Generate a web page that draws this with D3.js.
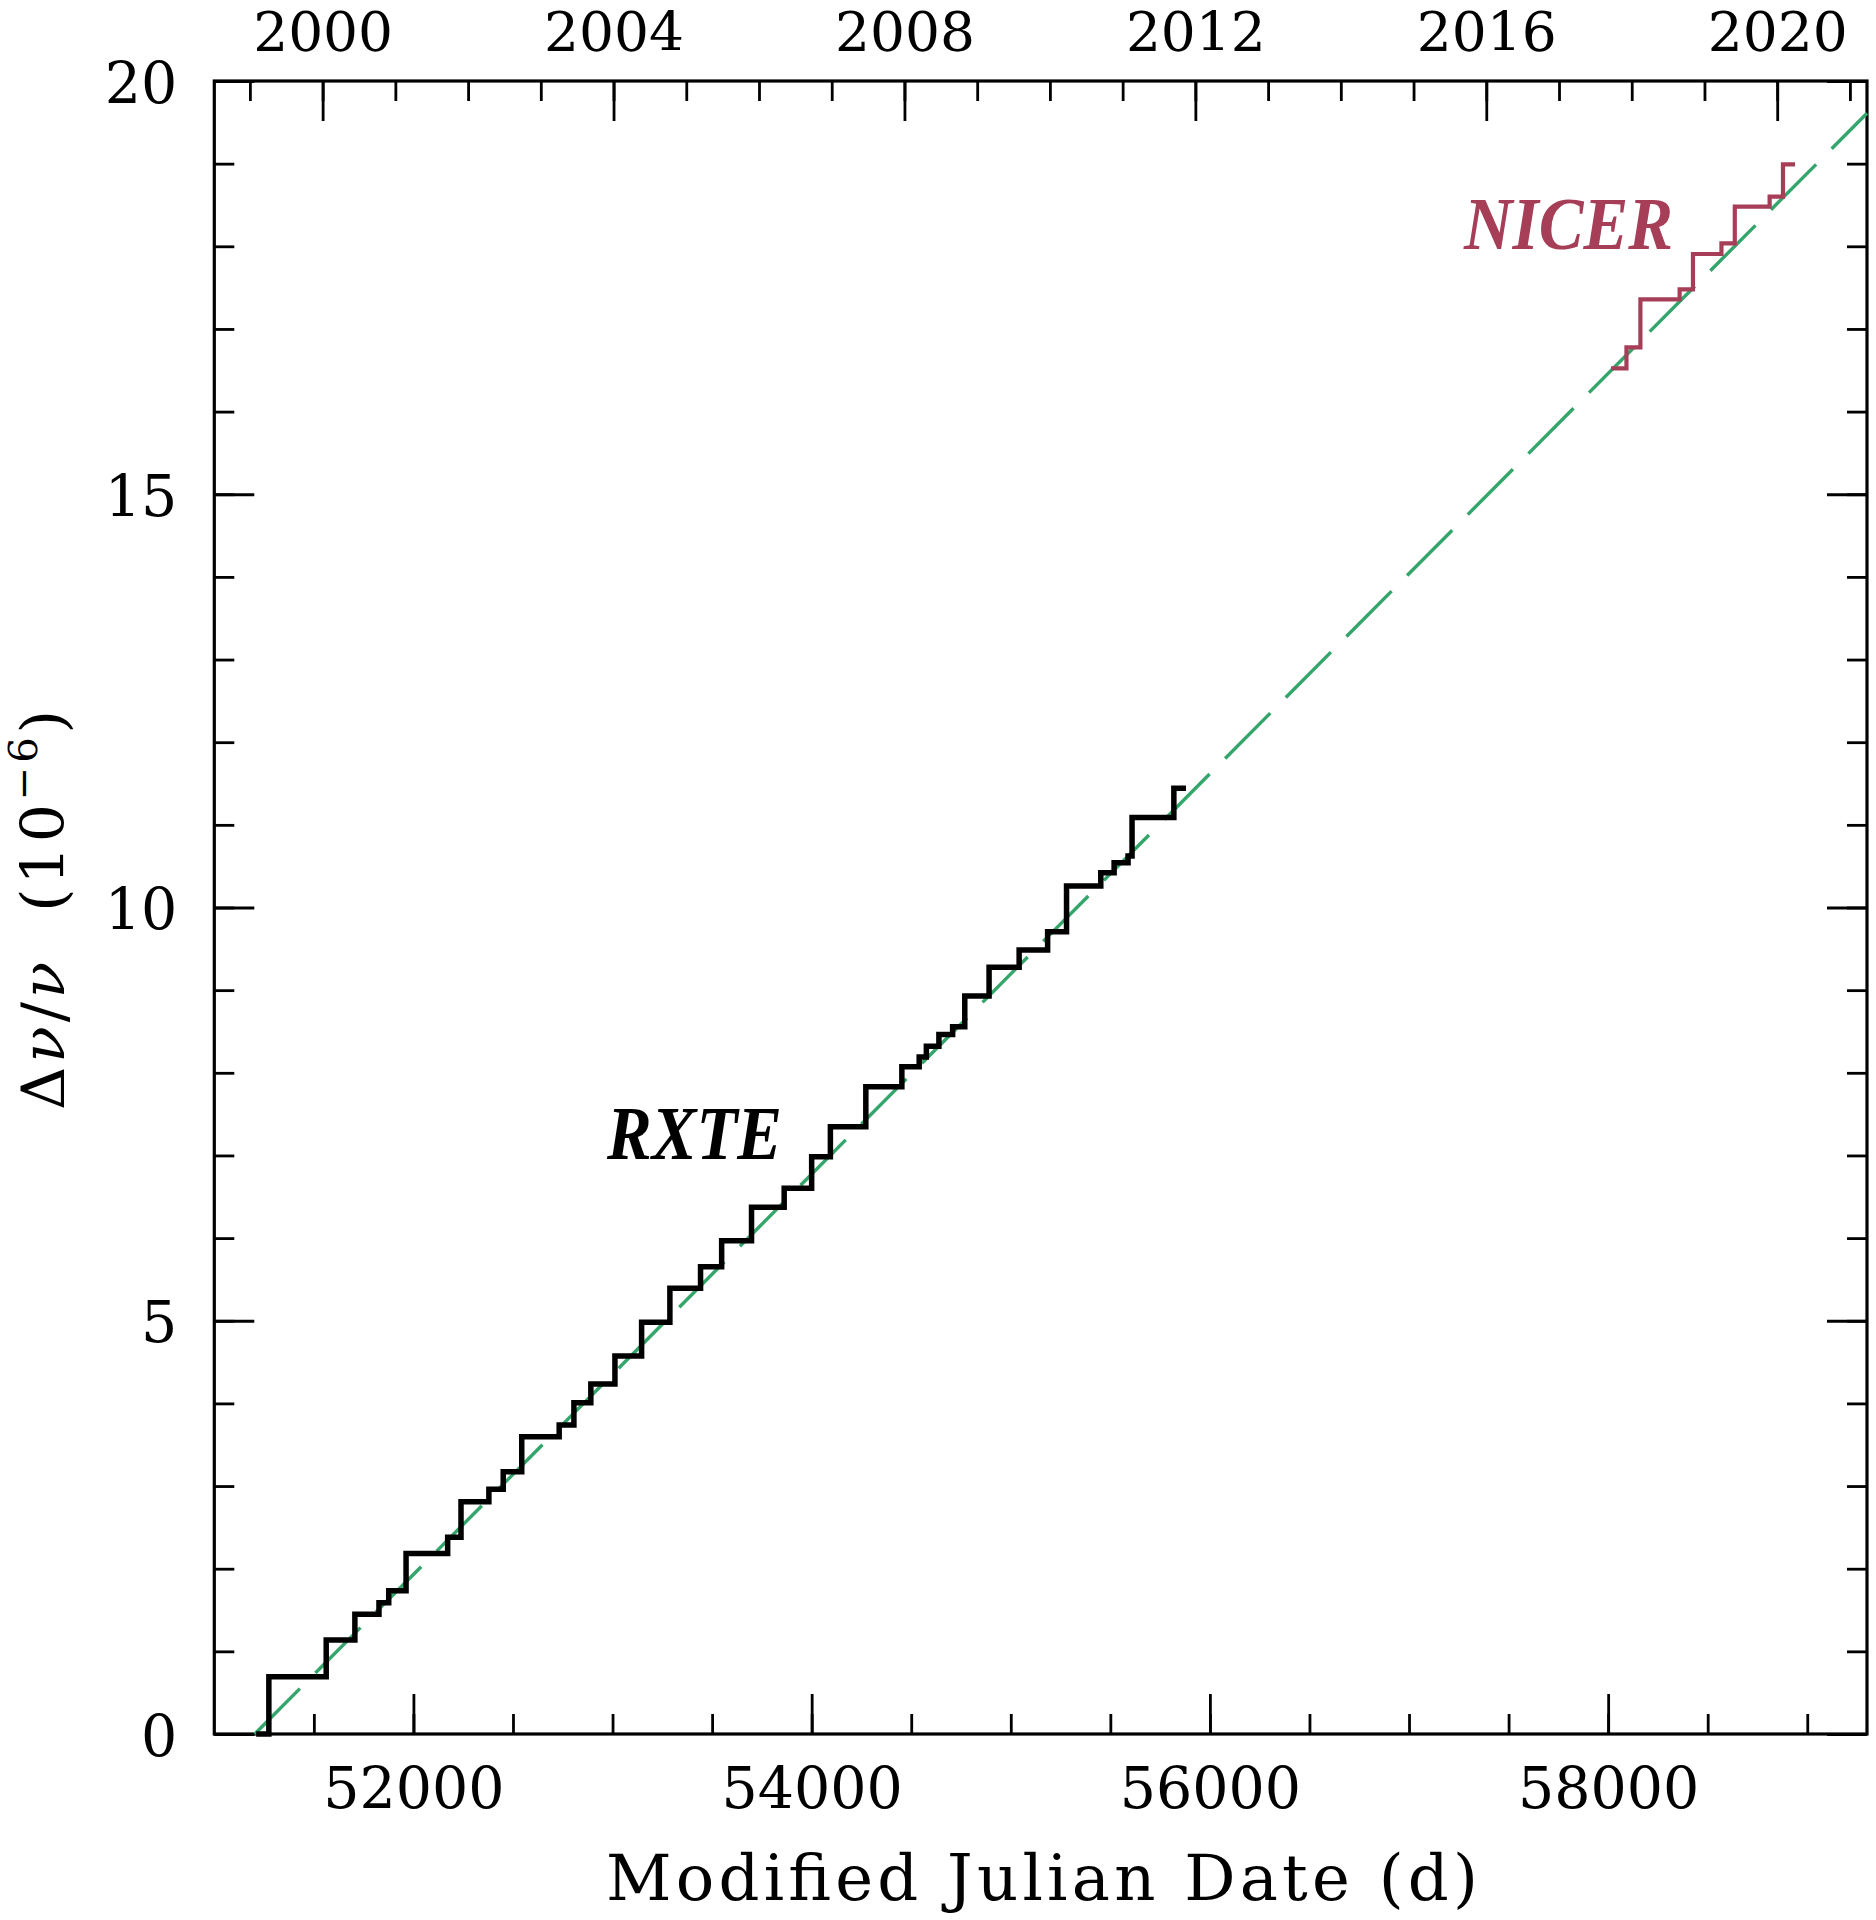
<!DOCTYPE html>
<html>
<head>
<meta charset="utf-8">
<script src="https://cdn.jsdelivr.net/npm/d3@7"></script>
<style>
  html, body { margin: 0; padding: 0; background: #fff; }
  svg { display: block; }
</style>
</head>
<body>
<div id="chart"></div>
<script>
// ---------------- data ----------------
// RXTE cumulative glitch fractional frequency jumps (start, glitch epochs, end)
const rxteMJD = [51224, 51274, 51562, 51706, 51827, 51876, 51963, 52172, 52239, 52379, 52451,
  52544, 52732, 52806, 52891, 53012, 53146, 53288, 53442, 53548, 53698, 53862, 54000, 54094,
  54272, 54453, 54540, 54576, 54639, 54708, 54769, 54891, 55042, 55185, 55280, 55452, 55519,
  55589, 55609, 55819, 55866];
const rxteVal = [0, 0.693, 1.137, 1.448, 1.589, 1.734, 2.184, 2.380, 2.811, 2.961, 3.174,
  3.597, 3.739, 4.008, 4.235, 4.574, 4.982, 5.393, 5.654, 5.969, 6.373, 6.603, 6.985, 7.348,
  7.832, 8.074, 8.191, 8.321, 8.463, 8.558, 8.929, 9.276, 9.486, 9.707, 10.260, 10.421, 10.542,
  10.623, 11.089, 11.442, 11.442];

// NICER
const nicerMJD = [58025, 58092, 58162, 58359, 58426, 58569, 58636, 58811, 58878, 58928];
const nicerVal = [16.524, 16.778, 17.359, 17.480, 17.907, 18.036, 18.479, 18.600, 18.992, 18.992];

// linear fit (dashed)
const fitMJD = [51203, 59300];
const fitVal = [0, 19.61];

// axes
const xDomain = [51000, 59300];
const yDomain = [0, 20];
const xMajorTicks = [52000, 54000, 56000, 58000];
const xMinorTicks = d3.range(51500, 59300, 500);
const yMajorTicks = [0, 5, 10, 15, 20];
const yMinorTicks = d3.range(0, 21, 1);
const yearMajorTicks = [2000, 2004, 2008, 2012, 2016, 2020];
const yearMinorTicks = d3.range(1999, 2022, 1);

const xTitle = "Modified Julian Date (d)";
const labelRXTE = "RXTE";
const labelNICER = "NICER";

// ---------------- layout ----------------
const W = 1876, H = 1920;
const L = 214.3, R = 1867, T = 81, B = 1734;
const FONT = "'DejaVu Serif', serif";
const GREEN = "#34a56b";
const RED = "#a63e58";

const svg = d3.select("#chart").append("svg")
  .attr("width", W).attr("height", H)
  .attr("viewBox", `0 0 ${W} ${H}`);

const x = d3.scaleLinear().domain(xDomain).range([L, R]);
const y = d3.scaleLinear().domain(yDomain).range([B, T]);
const yearOf = m => 2000 + (m - 51544) / 365.25;
const xYear = d3.scaleLinear().domain(xDomain.map(yearOf)).range([L, R]);

function styleAxis(g, fs) {
  g.select(".domain").remove();
  g.selectAll(".tick line").attr("stroke", "#000").attr("stroke-width", 2.8);
  g.selectAll("text").attr("font-family", FONT).attr("font-size", fs).attr("fill", "#000");
}

// bottom minor
svg.append("g").attr("transform", `translate(0,${B})`)
  .call(d3.axisBottom(x).tickValues(xMinorTicks).tickSize(-20).tickFormat(""))
  .call(g => styleAxis(g, 57));
// bottom major
svg.append("g").attr("transform", `translate(0,${B})`)
  .call(d3.axisBottom(x).tickValues(xMajorTicks).tickSize(-40).tickFormat(d3.format("d")))
  .call(g => styleAxis(g, 57))
  .call(g => g.selectAll("text").attr("y", 74).attr("dy", null));

// top minor (years)
svg.append("g").attr("transform", `translate(0,${T})`)
  .call(d3.axisTop(xYear).tickValues(yearMinorTicks).tickSize(-20).tickFormat(""))
  .call(g => styleAxis(g, 56));
svg.append("g").attr("transform", `translate(0,${T})`)
  .call(d3.axisTop(xYear).tickValues(yearMajorTicks).tickSize(-40).tickFormat(d3.format("d")))
  .call(g => styleAxis(g, 55))
  .call(g => g.selectAll("text").attr("y", -30).attr("dy", null));

// left
svg.append("g").attr("transform", `translate(${L},0)`)
  .call(d3.axisLeft(y).tickValues(yMinorTicks).tickSize(-20).tickFormat(""))
  .call(g => styleAxis(g, 57));
svg.append("g").attr("transform", `translate(${L},0)`)
  .call(d3.axisLeft(y).tickValues(yMajorTicks).tickSize(-40).tickPadding(37).tickFormat(d3.format("d")))
  .call(g => styleAxis(g, 57))
  .call(g => g.selectAll("text").attr("dy", 21));
// right
svg.append("g").attr("transform", `translate(${R},0)`)
  .call(d3.axisRight(y).tickValues(yMinorTicks).tickSize(-20).tickFormat(""))
  .call(g => styleAxis(g, 57));
svg.append("g").attr("transform", `translate(${R},0)`)
  .call(d3.axisRight(y).tickValues(yMajorTicks).tickSize(-40).tickFormat(""))
  .call(g => styleAxis(g, 57));

// frame
svg.append("rect")
  .attr("x", L).attr("y", T).attr("width", R - L).attr("height", B - T)
  .attr("fill", "none").attr("stroke", "#000").attr("stroke-width", 3.2);

// fit line
const fitPts = fitMJD.map((m, i) => [m, fitVal[i]]);
svg.append("path")
  .attr("d", d3.line().x(d => x(d[0])).y(d => y(d[1]))(fitPts))
  .attr("fill", "none").attr("stroke", GREEN).attr("stroke-width", 3.4)
  .attr("stroke-dasharray", "64,22");

// step lines
const step = d3.line().x(d => x(d[0])).y(d => y(d[1])).curve(d3.curveStepAfter);
svg.append("path")
  .attr("d", step(rxteMJD.map((m, i) => [m, rxteVal[i]])))
  .attr("fill", "none").attr("stroke", "#000").attr("stroke-width", 5.5)
  .attr("stroke-linejoin", "miter").attr("stroke-linecap", "square");
svg.append("path")
  .attr("d", step(nicerMJD.map((m, i) => [m, nicerVal[i]])))
  .attr("fill", "none").attr("stroke", RED).attr("stroke-width", 4.2)
  .attr("stroke-linejoin", "miter").attr("stroke-linecap", "square");

// labels
svg.append("text").text(labelRXTE)
  .attr("x", 607).attr("y", 1159)
  .attr("font-family", "'Liberation Serif', serif").attr("font-style", "italic").attr("font-weight", "bold")
  .attr("font-size", 76).attr("textLength", 175).attr("lengthAdjust", "spacingAndGlyphs")
  .attr("fill", "#000");
svg.append("text").text(labelNICER)
  .attr("x", 1464).attr("y", 249)
  .attr("font-family", "'Liberation Serif', serif").attr("font-style", "italic").attr("font-weight", "bold")
  .attr("font-size", 74).attr("textLength", 209).attr("lengthAdjust", "spacingAndGlyphs")
  .attr("fill", RED);

// x title
svg.append("text").text(xTitle)
  .attr("x", 606).attr("y", 1900)
  .attr("font-family", FONT).attr("font-size", 64)
  .attr("textLength", 872).attr("lengthAdjust", "spacing")
  .attr("fill", "#000");

// y title
const yt = svg.append("text")
  .attr("transform", "translate(64,1110) rotate(-90)")
  .attr("x", 0).attr("y", 0)
  .attr("font-family", FONT).attr("font-size", 60).attr("fill", "#000")
  .attr("textLength", 400).attr("lengthAdjust", "spacing");
yt.append("tspan").text("Δ");
yt.append("tspan").attr("font-style", "italic").text("ν");
yt.append("tspan").text("/");
yt.append("tspan").attr("font-style", "italic").text("ν");
yt.append("tspan").text("\u00a0\u00a0(10");
yt.append("tspan").attr("font-size", 40).attr("dy", -27).text("−6");
yt.append("tspan").attr("dy", 27).text(")");
</script>
</body>
</html>
